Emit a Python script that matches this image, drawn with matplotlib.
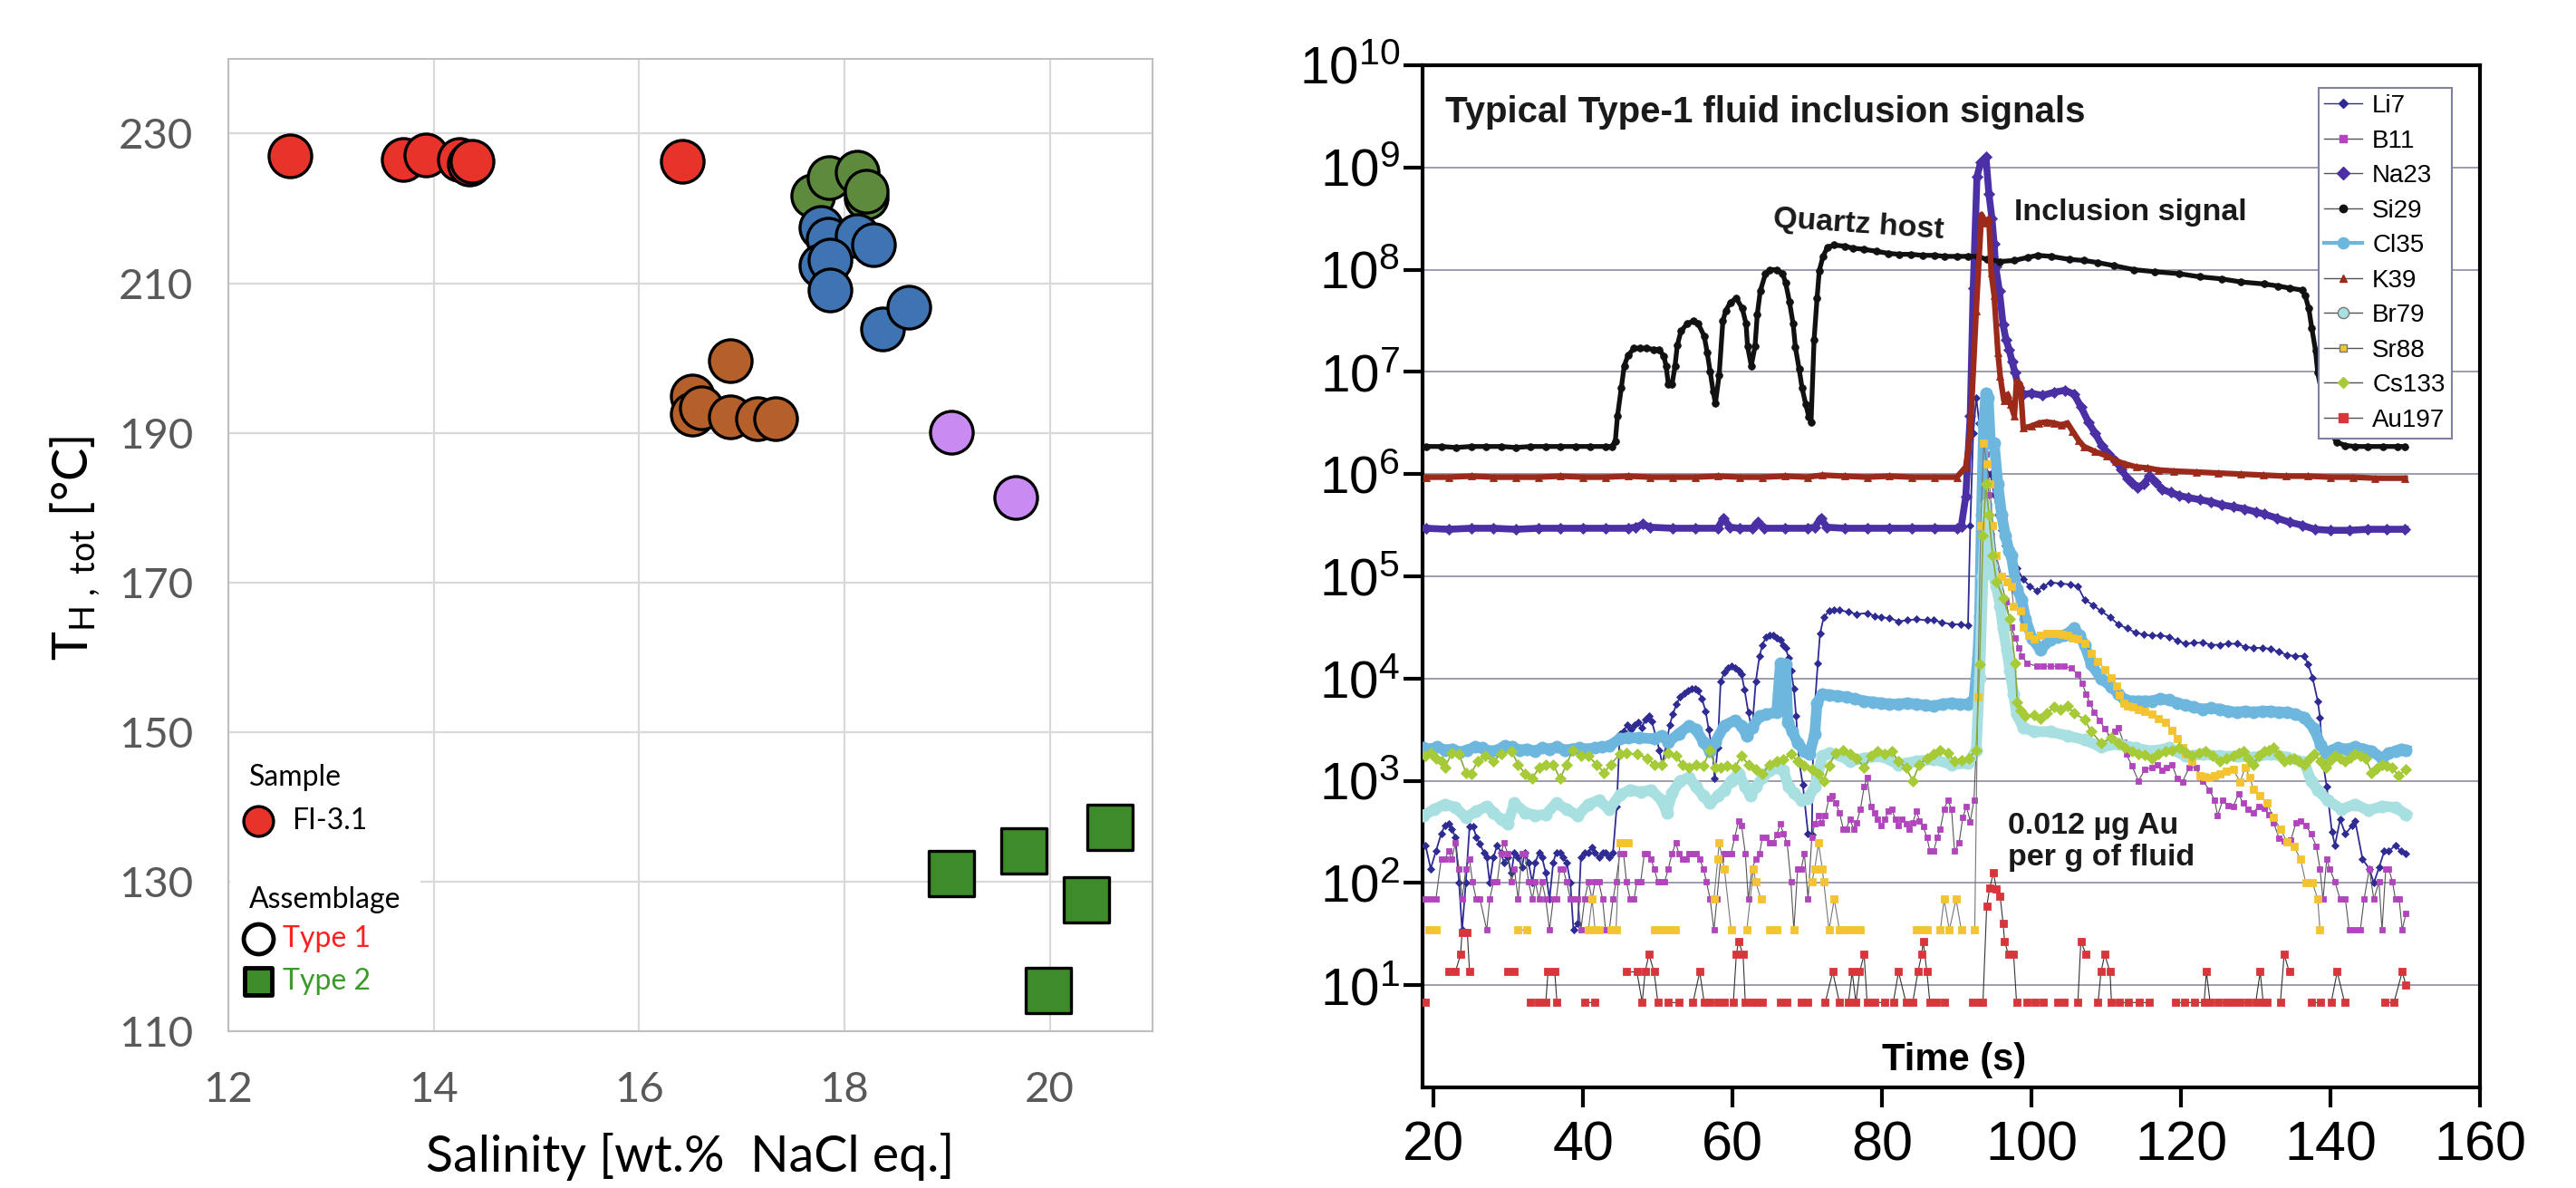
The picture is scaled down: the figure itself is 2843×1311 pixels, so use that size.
import numpy as np
import matplotlib
matplotlib.use('Agg')
import matplotlib.pyplot as plt
from matplotlib.lines import Line2D
from matplotlib.patches import Rectangle
from matplotlib.ticker import FuncFormatter, NullLocator

plt.rcParams['font.family'] = ['Liberation Sans', 'DejaVu Sans']
plt.rcParams['mathtext.fontset'] = 'custom'
plt.rcParams['mathtext.rm'] = 'Lato'
plt.rcParams['mathtext.sf'] = 'Liberation Sans'
plt.rcParams['mathtext.it'] = 'Lato:italic'
plt.rcParams['mathtext.bf'] = 'Lato:bold'

# ---------------- left panel: Th vs salinity ----------------
red_x = [12.60, 13.70, 13.92, 14.25, 14.35, 14.37, 16.42]
red_y = [227.0, 226.6, 227.2, 226.6, 225.9, 226.3, 226.3]
green_x = [17.69, 17.85, 18.12, 18.21, 18.21]
green_y = [221.7, 224.1, 224.9, 221.5, 222.3]
blue_x = [17.77, 17.84, 18.12, 18.28, 17.77, 17.86, 17.86, 18.37, 18.63]
blue_y = [217.5, 215.9, 216.4, 215.2, 212.4, 213.1, 209.1, 203.9, 206.8]
brown_x = [16.89, 16.52, 16.52, 16.61, 16.89, 17.15, 17.33]
brown_y = [199.7, 194.9, 192.5, 193.3, 192.1, 191.9, 191.9]
violet_x = [19.04, 19.67]
violet_y = [190.1, 181.4]
type2_x = [19.04, 19.75, 20.59, 20.36, 19.99]
type2_y = [131.1, 134.1, 137.2, 127.5, 115.4]

# ---------------- right panel: LA-ICP-MS signals (log10 cps) ----------------
li7 = [(18.9,2.37),(19.6,2.14),(20.3,2.31),(21.0,2.48),(21.5,2.56),(22.0,2.58),(22.4,2.53),(22.9,2.45),(23.4,2.0),(23.8,1.54),
       (24.3,2.0),(24.8,2.55),(25.3,2.55),(25.7,2.45),(26.2,2.38),(26.7,2.30),(27.1,2.25),(27.5,2.0),(28.0,2.25),(28.5,2.37),
       (29.0,2.30),(29.4,2.20),(29.9,2.25),(30.4,2.10),(30.8,2.30),(31.3,2.25),(31.8,2.15),(32.2,2.30),(32.7,2.20),(33.2,2.0),
       (33.6,2.20),(34.1,2.30),(34.5,2.25),(35.0,2.10),(35.5,1.84),(36.0,2.20),(36.4,2.30),(36.9,2.30),(37.3,2.25),(37.8,2.20),
       (38.3,2.0),(38.7,1.54),(39.3,1.6),(39.7,2.25),(40.2,2.30),(40.7,2.30),(41.2,2.35),(41.6,2.30),(42.1,2.25),(42.6,2.30),
       (43.0,2.30),(43.5,2.25),(44.0,2.30),(44.5,2.75),(44.9,3.46),(45.4,3.48),(45.9,3.55),(46.4,3.50),(46.9,3.55),(47.4,3.57),
       (47.9,3.52),(48.3,3.60),(48.8,3.63),(49.2,3.58),(49.7,3.44),(50.2,3.30),(50.6,3.16),(51.1,3.35),(51.6,3.55),(52.0,3.65),
       (52.5,3.75),(53.0,3.82),(53.5,3.86),(54.0,3.88),(54.5,3.90),(55.0,3.90),(55.4,3.88),(55.9,3.80),(56.4,3.68),(56.8,3.50),
       (57.3,3.30),(57.6,3.02),(58.0,3.32),(58.4,3.97),(58.9,4.06),(59.4,4.10),(59.8,4.12),(60.3,4.10),(60.8,4.08),(61.2,4.04),
       (61.6,3.89),(62.1,3.67),(62.6,3.49),(63.1,3.97),(63.6,4.22),(64.0,4.33),(64.5,4.41),(65.0,4.42),(65.4,4.42),(65.9,4.40),
       (66.4,4.38),(66.8,4.33),(67.1,4.30),(67.5,4.20),(67.8,4.08),(68.2,3.90),(68.5,3.63),(68.9,3.19),(69.4,2.96),(70.1,2.48),
       (70.6,2.47),(70.8,3.46),(71.0,3.73),(71.4,4.15),(71.7,4.44),(72.2,4.60),(72.9,4.66),(73.6,4.67),(74.3,4.67),(75.5,4.65),
       (76.6,4.63),(78.0,4.64),(79.0,4.61),(79.9,4.60),(81.0,4.59),(82.2,4.56),(83.4,4.57),(84.6,4.58),(86.0,4.57),(86.9,4.57),
       (88.0,4.55),(89.3,4.53),(90.5,4.53),(91.5,4.52),(91.8,5.5),(92.2,6.4),(92.6,6.75),(93.0,6.5),(93.4,6.1),(93.8,5.9),
       (94.2,6.0),(94.5,6.0),(95.0,5.8),(95.5,5.6),(96.0,5.45),(96.5,5.3),(97.0,5.2),(97.6,5.12),(98.0,5.08),(98.9,4.97),
       (99.8,4.90),(100.7,4.86),(101.6,4.90),(102.5,4.94),(103.9,4.93),(105.2,4.92),(106.2,4.90),(107.1,4.77),(108.2,4.72),(109.3,4.66),
       (110.5,4.60),(111.6,4.53),(112.8,4.49),(113.9,4.45),(115.0,4.43),(116.1,4.42),(117.2,4.42),(118.4,4.41),(119.5,4.37),(120.6,4.34),
       (121.7,4.35),(122.9,4.35),(124.0,4.33),(125.2,4.33),(126.3,4.34),(127.5,4.34),(128.6,4.31),(129.7,4.30),(130.9,4.30),(132.0,4.29),
       (133.1,4.26),(134.2,4.23),(135.3,4.22),(136.5,4.22),(137.0,4.14),(137.6,4.01),(138.3,3.78),(138.6,3.62),(139.0,3.18),(139.5,2.94),
       (140.2,2.50),(140.6,2.37),(141.3,2.62),(142.0,2.48),(142.9,2.56),(143.3,2.61),(144.3,2.23),(145.2,2.14),(145.8,2.0),(146.5,2.15),
       (147.2,2.31),(147.8,2.31),(148.7,2.37),(149.4,2.31),(150.1,2.29)]

b11 = [(18.9,1.84),(19.6,1.84),(20.3,1.84),(21.0,2.23),(21.5,2.23),(22.0,2.31),(22.4,2.23),(22.9,2.39),(23.4,2.14),(23.8,1.84),
       (24.3,2.14),(24.8,2.23),(25.2,2.01),(25.7,1.84),(26.2,1.84),(27.1,1.54),(27.5,1.84),(28.0,2.01),(28.5,2.01),(29.0,2.29),
       (29.4,2.39),(29.9,2.29),(30.4,2.01),(30.8,2.14),(31.3,1.84),(31.8,2.29),(32.2,2.29),(32.7,2.01),(33.2,1.84),(33.6,2.01),
       (34.1,1.84),(34.5,2.01),(35.0,1.84),(35.5,1.54),(36.0,1.84),(36.4,1.84),(36.9,2.14),(37.3,2.14),(37.8,2.01),(38.3,1.84),
       (38.7,1.84),(39.3,1.84),(39.7,1.54),(40.2,1.84),(40.7,2.01),(41.2,1.84),(41.6,2.01),(42.1,2.01),(42.6,1.84),(43.0,1.54),
       (43.5,1.54),(44.0,1.84),(44.4,2.01),(44.9,2.29),(45.4,2.29),(45.8,2.01),(46.3,1.84),(46.8,1.84),(47.2,2.01),(47.7,2.01),
       (48.2,2.29),(48.6,2.29),(49.1,2.23),(49.5,2.14),(50.0,2.01),(50.5,2.01),(50.9,2.01),(51.4,2.14),(51.9,2.29),(52.4,2.39),
       (52.8,2.29),(53.3,2.23),(53.8,2.23),(54.2,2.29),(54.7,2.29),(55.1,2.29),(55.6,2.23),(56.1,2.14),(56.5,2.01),(57.0,1.84),
       (57.5,1.54),(57.9,1.84),(58.4,2.23),(58.9,2.29),(59.3,2.29),(59.8,2.29),(60.3,2.45),(60.8,2.61),(61.2,2.56),(61.7,2.29),
       (62.1,1.84),(62.6,2.14),(63.1,2.23),(63.6,2.29),(64.0,2.45),(64.5,2.45),(65.0,2.39),(65.4,2.39),(65.9,2.47),(66.4,2.58),
       (66.8,2.48),(67.3,2.39),(67.8,2.01),(68.2,1.54),(68.7,2.14),(69.2,2.14),(69.6,2.29),(70.1,1.84),(70.6,2.45),(71.0,2.58),
       (71.5,2.66),(71.9,2.59),(72.4,2.66),(72.9,2.83),(73.3,2.85),(73.8,2.78),(74.3,2.69),(74.8,2.53),(75.2,2.53),(75.7,2.62),
       (76.2,2.53),(76.6,2.59),(77.1,2.72),(77.6,2.94),(78.0,3.03),(78.5,2.75),(79.0,2.69),(79.4,2.62),(79.9,2.56),(80.4,2.62),
       (80.8,2.70),(81.3,2.72),(81.8,2.62),(82.2,2.56),(82.7,2.62),(83.2,2.58),(83.6,2.53),(84.1,2.59),(84.6,2.70),(85.0,2.61),
       (85.5,2.55),(86.0,2.45),(86.4,2.31),(86.9,2.31),(87.4,2.45),(87.8,2.53),(88.3,2.72),(88.8,2.81),(89.3,2.72),(89.7,2.31),
       (90.3,2.39),(90.8,2.64),(91.3,2.75),(91.8,2.60),(92.3,2.81),(92.7,3.5),(93.1,4.8),(93.5,5.9),(93.9,6.2),(94.3,5.8),
       (94.7,5.4),(95.2,5.2),(95.8,5.0),(96.6,4.75),(97.3,4.5),(97.8,4.40),(98.3,4.30),(98.7,4.22),(99.4,4.15),(100.7,4.12),
       (101.6,4.12),(102.5,4.12),(103.5,4.12),(104.4,4.12),(105.3,4.10),(106.2,4.04),(106.8,3.95),(107.3,3.85),(107.8,3.76),(108.4,3.67),
       (109.1,3.59),(109.8,3.51),(110.5,3.43),(111.1,3.48),(111.6,3.52),(112.3,3.38),(112.7,3.26),(113.4,3.15),(114.3,3.0),(115.2,3.11),
       (116.1,3.13),(116.8,3.16),(117.5,3.10),(118.1,3.13),(118.8,3.16),(119.5,3.02),(120.2,2.99),(121.1,3.13),(122.0,3.13),(122.9,3.0),
       (123.8,2.91),(124.5,2.81),(124.9,2.66),(125.6,2.81),(126.3,2.76),(127.0,2.75),(127.7,2.87),(128.3,2.78),(129.0,2.72),(129.7,2.69),
       (130.4,2.75),(131.1,2.73),(131.7,2.67),(132.4,2.59),(133.1,2.44),(133.8,2.41),(134.7,2.42),(135.4,2.59),(136.0,2.61),(136.7,2.56),
       (137.4,2.48),(138.1,2.36),(138.6,2.14),(139.0,1.84),(139.5,2.23),(139.9,2.14),(140.6,2.01),(141.3,1.84),(142.0,1.84),(142.5,1.54),
       (143.3,1.54),(144.0,1.54),(144.5,1.84),(145.2,2.14),(145.8,1.84),(146.5,2.01),(146.9,1.54),(147.4,2.14),(147.8,2.14),(148.3,2.01),
       (148.7,1.84),(149.2,1.84),(149.6,1.54),(150.1,1.70)]

na23 = [(19,5.47),(22,5.46),(25,5.47),(28,5.47),(31,5.46),(34,5.47),(37,5.47),(40,5.47),(43,5.47),(46,5.47),(47,5.48),(48,5.51),
        (49,5.48),(52,5.47),(55,5.47),(58,5.47),(58.8,5.57),(59.6,5.48),(61,5.47),(62.6,5.47),(63.4,5.53),(64.2,5.47),(67,5.47),
        (70,5.47),(71,5.48),(71.8,5.57),(72.6,5.48),(75,5.47),(78,5.47),(81,5.47),(84,5.47),(87,5.47),(90.0,5.47),(90.6,5.49),
        (91.2,5.78),(91.8,6.57),(92.2,7.82),(92.7,8.91),(93.2,9.05),(93.9,9.10),(94.3,8.74),(94.7,8.50),(95.0,8.25),(95.2,8.03),
        (95.7,7.79),(96.2,7.46),(96.6,7.31),(97.0,7.22),(97.4,7.10),(97.8,6.99),(98.3,6.84),(98.9,6.78),(100,6.79),(101.5,6.77),
        (103,6.80),(104.5,6.82),(105.7,6.78),(106.6,6.66),(107.6,6.51),(108.5,6.40),(109.4,6.28),(110.3,6.20),(111.3,6.13),(112.0,6.05),
        (112.8,5.96),(113.5,5.91),(114.2,5.87),(115,5.90),(115.8,5.98),(116.6,5.92),(117.5,5.85),(118.6,5.82),(119.8,5.79),(121,5.77),
        (122.5,5.75),(124,5.73),(125.4,5.70),(127,5.68),(128.5,5.66),(130,5.63),(131.1,5.61),(132.8,5.57),(134.5,5.53),(136.2,5.50),
        (137.9,5.46),(140,5.45),(142.5,5.45),(145,5.46),(147.5,5.46),(150,5.46)]

si29 = [(19,6.27),(21,6.27),(23,6.26),(25,6.27),(27,6.27),(29,6.27),(31,6.26),(33,6.27),(35,6.27),(37,6.27),(39,6.27),(41,6.27),
        (43,6.27),(43.8,6.27),(44.3,6.32),(44.6,6.57),(45.1,6.84),(45.5,7.06),(46.0,7.16),(46.8,7.23),(47.6,7.23),(48.5,7.23),
        (49.4,7.22),(50.2,7.22),(50.8,7.15),(51.1,7.06),(51.4,6.88),(51.9,6.88),(52.3,7.06),(52.6,7.26),(53.1,7.40),(53.9,7.47),
        (54.8,7.50),(55.4,7.47),(56.2,7.35),(56.6,7.19),(57.0,7.00),(57.4,6.81),(57.7,6.69),(58.2,6.97),(58.7,7.50),(59.1,7.60),
        (59.7,7.68),(60.5,7.72),(61.3,7.62),(61.8,7.47),(62.0,7.25),(62.5,7.06),(63.0,7.25),(63.3,7.56),(63.7,7.79),(64.4,7.96),
        (65.0,8.00),(65.9,8.00),(66.7,7.96),(67.1,7.87),(67.6,7.69),(68.1,7.47),(68.4,7.24),(68.9,7.03),(69.3,6.84),(69.8,6.68),
        (70.2,6.56),(70.5,6.51),(70.9,7.31),(71.3,7.72),(71.6,7.99),(72.1,8.13),(72.7,8.22),(73.6,8.24),(75,8.23),(76.1,8.21),
        (77.5,8.20),(79.2,8.18),(80.8,8.16),(82.3,8.15),(83.9,8.15),(85.4,8.14),(87,8.14),(88.4,8.13),(90,8.13),(91.5,8.13),
        (92.8,8.13),(94.0,8.10),(95.8,8.08),(97.7,8.09),(99.5,8.12),(100.8,8.14),(102.6,8.13),(105.1,8.10),(107,8.09),(108.8,8.07),
        (111,8.04),(113.7,8.00),(116.5,7.98),(119.8,7.96),(122.5,7.93),(125.4,7.91),(128,7.88),(131.1,7.86),(133,7.84),(134.5,7.82),
        (136.2,7.80),(136.6,7.75),(137.1,7.62),(137.5,7.43),(138.0,7.21),(138.3,6.99),(138.8,6.81),(139.2,6.65),(139.5,6.51),(140.0,6.40),
        (140.9,6.31),(142,6.28),(143.3,6.27),(145,6.27),(147,6.27),(149,6.27),(150,6.27)]

cl35 = [(18.6,3.32),(19.5,3.31),(20.5,3.33),(21.5,3.30),(22.5,3.31),(23.5,3.28),(24.5,3.30),(25.5,3.33),(26.5,3.32),(27.5,3.29),
        (28.5,3.30),(29.5,3.34),(30.5,3.33),(31.5,3.30),(32.5,3.31),(33.5,3.29),(34.5,3.32),(35.5,3.31),(36.5,3.33),(37.5,3.30),
        (38.5,3.31),(39.5,3.32),(40.5,3.31),(41.5,3.32),(42.5,3.33),(43.5,3.34),(44.9,3.41),(46.0,3.42),(47.5,3.42),(49.5,3.41),
        (50.5,3.44),(51.4,3.38),(52.8,3.46),(54.2,3.54),(55.1,3.50),(56.1,3.38),(57.0,3.29),(57.7,3.38),(58.9,3.54),(60.3,3.59),
        (61.2,3.54),(61.9,3.44),(62.6,3.52),(63.6,3.63),(64.5,3.65),(65.9,3.67),(66.4,4.15),(67.1,4.14),(67.4,3.57),(68.0,3.48),
        (68.7,3.37),(69.6,3.29),(70.3,3.26),(71.0,3.46),(71.3,3.76),(72.0,3.85),(72.9,3.84),(74.0,3.83),(75.2,3.82),(76.4,3.80),
        (77.6,3.78),(78.8,3.77),(79.9,3.76),(81.0,3.75),(82.2,3.75),(83.4,3.76),(84.6,3.75),(85.8,3.74),(86.9,3.73),(88.1,3.75),
        (89.3,3.76),(90.4,3.75),(91.5,3.75),(92.3,3.80),(92.8,4.20),(93.05,4.61),(93.3,5.60),(93.6,6.50),(93.9,6.79),(94.2,6.75),
        (94.5,6.30),(95.0,6.30),(95.5,5.90),(96.0,5.60),(96.5,5.40),(97.0,5.25),(97.3,5.20),(98.0,4.88),(98.7,4.77),(99.2,4.58),
        (100.1,4.39),(101.2,4.28),(102.5,4.38),(103.5,4.41),(104.4,4.42),(105.7,4.49),(106.4,4.42),(107.1,4.33),(108.0,4.14),(109.3,4.00),
        (110.7,3.92),(111.6,3.85),(112.5,3.79),(113.4,3.78),(114.3,3.78),(115.2,3.78),(116.1,3.78),(117.2,3.80),(118.4,3.79),(119.5,3.76),
        (120.6,3.74),(121.7,3.72),(122.9,3.70),(124.0,3.71),(125.2,3.70),(126.3,3.68),(127.5,3.67),(128.6,3.68),(129.7,3.67),(130.9,3.68),
        (132.0,3.68),(133.1,3.67),(134.2,3.67),(135.3,3.65),(136.5,3.62),(137.8,3.51),(138.7,3.35),(139.4,3.27),(140.2,3.30),(141.0,3.32),
        (142.2,3.31),(143.3,3.33),(144.4,3.31),(145.5,3.29),(146.9,3.22),(147.8,3.27),(148.7,3.29),(149.5,3.31),(150.1,3.30)]

k39 = [(19,5.97),(22,5.97),(25,5.98),(28,5.97),(31,5.97),(34,5.97),(37,5.98),(40,5.97),(43,5.97),(46,5.98),(49,5.97),(52,5.97),
       (55,5.97),(58,5.98),(61,5.97),(64,5.97),(67,5.98),(70,5.97),(72,5.99),(75,5.98),(78,5.97),(81,5.98),(84,5.97),(87,5.97),
       (90,5.97),(91.2,6.07),(91.8,6.40),(92.6,7.60),(93.3,8.54),(93.9,8.46),(94.3,8.50),(94.6,7.97),(95.0,7.75),(95.5,7.19),
       (95.8,6.96),(96.3,6.72),(96.8,6.78),(97.2,6.68),(97.7,6.57),(98.0,6.91),(98.5,6.88),(98.9,6.45),(100,6.47),(101,6.50),
       (102,6.51),(103,6.50),(104,6.48),(104.8,6.50),(105.5,6.42),(106.3,6.33),(107,6.27),(108.5,6.22),(110,6.18),(111.3,6.13),
       (112.5,6.10),(114,6.07),(115.5,6.06),(117,6.04),(119,6.03),(122,6.02),(125,6.01),(128,6.00),(131,5.99),(134,5.98),
       (137,5.98),(140,5.97),(143,5.97),(146,5.96),(150,5.96)]

br79 = [(18.6,2.66),(20.1,2.72),(21.5,2.77),(22.9,2.74),(24.3,2.64),(25.7,2.70),(27.1,2.75),(28.0,2.69),(29.0,2.62),(29.9,2.58),
        (30.8,2.78),(32.2,2.69),(33.6,2.66),(35.0,2.67),(36.4,2.78),(37.8,2.72),(39.3,2.66),(40.7,2.77),(42.1,2.81),(43.5,2.72),
        (44.9,2.86),(46.3,2.91),(47.7,2.89),(49.1,2.91),(50.5,2.81),(51.2,2.69),(51.9,2.88),(53.0,3.00),(54.2,3.03),(55.1,2.94),
        (56.1,2.85),(57.0,2.78),(58.0,2.85),(58.9,2.91),(59.8,3.00),(60.8,3.07),(61.7,2.94),(62.4,2.85),(63.1,2.94),(64.0,3.03),
        (65.0,3.10),(65.9,3.13),(66.8,3.10),(67.5,2.94),(68.2,2.88),(69.2,2.81),(70.1,2.83),(71.0,2.94),(72.0,3.24),(72.9,3.27),
        (74.3,3.25),(75.7,3.19),(77.6,3.22),(79.9,3.24),(82.2,3.16),(84.6,3.19),(86.9,3.21),(89.3,3.16),(91.5,3.17),(92.6,3.30),
        (93.05,4.01),(93.5,5.0),(93.9,5.7),(94.3,5.5),(94.6,5.1),(95.3,4.9),(95.8,4.71),(96.2,4.49),(96.7,4.28),(97.1,4.08),
        (97.6,3.85),(98.0,3.65),(98.9,3.52),(100.3,3.48),(102.5,3.48),(104.8,3.44),(107.1,3.40),(109.3,3.33),(111.6,3.36),(113.9,3.32),
        (116.1,3.29),(118.4,3.32),(120.6,3.24),(122.9,3.26),(125.2,3.24),(127.5,3.24),(129.7,3.23),(132.0,3.26),(134.2,3.23),(136.5,3.18),
        (137.4,3.00),(138.3,2.91),(139.6,2.81),(141.5,2.72),(143.3,2.77),(145.1,2.71),(146.9,2.75),(148.7,2.74),(150.1,2.67)]

sr88 = [(19.4,1.54),(20.3,1.54),(20.8,np.nan),(31.3,1.54),(32.5,1.54),(33,np.nan),(40.7,1.54),(41.2,1.84),(41.6,1.54),(42.1,1.54),
        (42.6,np.nan),(43.7,1.54),(44.4,1.54),(44.9,2.39),(45.5,2.39),(46.0,2.39),(46.5,np.nan),(49.5,1.54),(50.5,1.54),(51.4,1.54),
        (52.3,1.54),(52.8,np.nan),(57.5,1.84),(58.0,2.23),(58.2,2.39),(58.9,2.14),(59.8,1.54),(60.3,np.nan),(61.9,1.54),(62.8,2.14),
        (63.1,2.01),(63.8,1.84),(64.3,np.nan),(65.0,1.54),(65.9,1.54),(66.4,np.nan),(68.2,1.54),(68.7,np.nan),(70.6,2.01),(71.0,2.14),
        (71.5,2.39),(72.0,2.14),(72.2,2.01),(72.9,1.54),(73.6,1.84),(74.3,1.54),(74.8,1.54),(75.5,1.54),(76.4,1.54),(77.1,1.54),
        (77.6,np.nan),(84.6,1.54),(85.3,1.54),(86.0,1.54),(86.5,np.nan),(87.8,1.54),(88.3,1.84),(89.0,1.54),(89.9,1.84),(90.6,1.54),
        (91.5,np.nan),(92.4,1.54),(92.8,3.82),(93.2,5.5),(93.6,6.3),(94.0,6.1),(94.4,5.9),(94.8,5.5),(95.3,5.2),(96.0,5.0),
        (96.7,4.95),(97.3,4.9),(97.6,4.71),(98.5,4.66),(98.9,4.50),(99.6,4.42),(100.3,4.39),(101.2,4.42),(102.1,4.44),(102.8,4.44),
        (103.5,4.44),(104.1,4.43),(104.8,4.42),(105.5,4.40),(106.2,4.39),(107.1,4.34),(108.0,4.25),(108.9,4.17),(109.8,4.09),(110.7,4.01),
        (111.4,3.93),(111.8,3.84),(112.3,3.76),(112.9,3.73),(113.6,3.72),(114.3,3.70),(115.2,3.68),(116.1,3.65),(117.0,3.61),(117.9,3.57),
        (118.8,3.49),(119.5,3.41),(120.2,3.32),(120.6,3.26),(121.5,3.19),(122.5,3.05),(123.1,3.04),(123.8,3.03),(124.5,3.05),(125.2,3.07),
        (126.1,3.09),(127.0,3.11),(127.9,2.99),(128.6,3.13),(129.2,3.03),(129.7,2.92),(130.6,2.85),(131.5,2.78),(132.4,2.64),(133.3,2.53),
        (134.2,2.40),(135.1,2.36),(136.0,2.23),(136.7,2.0),(137.6,2.0),(138.3,1.84),(138.6,1.54)]

cs133 = [(18.9,3.24),(19.6,3.27),(20.3,3.22),(21.0,3.19),(21.5,3.13),(22.4,3.27),(23.4,3.26),(24.3,3.08),(25.0,3.07),(25.9,3.19),
         (26.9,3.24),(28.0,3.19),(29.0,3.26),(30.4,3.29),(31.3,3.16),(32.2,3.07),(33.2,3.02),(34.1,3.13),(35.0,3.16),(36.0,3.16),
         (36.9,3.02),(37.8,3.16),(38.6,3.30),(39.7,3.24),(40.7,3.24),(41.8,3.16),(42.8,3.08),(43.7,3.16),(44.9,3.26),(45.8,3.27),
         (47.2,3.26),(48.6,3.22),(49.5,3.16),(50.5,3.16),(51.4,3.27),(52.4,3.24),(53.3,3.16),(54.2,3.13),(55.1,3.16),(56.1,3.15),
         (57.0,3.30),(57.7,3.13),(58.4,3.13),(59.3,3.15),(60.3,3.13),(61.2,3.24),(62.1,3.16),(63.1,3.11),(64.0,3.07),(65.0,3.16),
         (65.9,3.19),(66.8,3.21),(67.8,3.26),(68.7,3.19),(69.6,3.15),(70.6,3.11),(71.5,3.07),(72.2,3.00),(72.9,3.15),(73.8,3.27),
         (74.8,3.30),(75.7,3.26),(76.6,3.22),(77.6,3.13),(78.5,3.24),(79.4,3.29),(80.4,3.26),(81.3,3.29),(82.2,3.19),(83.2,3.13),
         (84.1,3.00),(85.0,3.16),(86.0,3.22),(86.9,3.26),(87.8,3.30),(88.8,3.27),(89.7,3.19),(90.6,3.20),(91.6,3.22),(92.6,3.30),
         (93.05,4.14),(93.5,5.4),(93.9,5.9),(94.3,5.6),(94.8,5.2),(95.3,4.95),(96.2,4.79),(97.1,4.58),(97.8,4.15),(98.1,3.77),
         (98.5,3.69),(99.2,3.63),(100.3,3.64),(101.2,3.61),(102.1,3.66),(103.0,3.72),(103.9,3.70),(104.8,3.73),(105.7,3.66),(107.1,3.60),
         (108.0,3.48),(109.3,3.37),(110.7,3.42),(111.6,3.37),(112.5,3.32),(113.4,3.29),(114.3,3.26),(115.2,3.25),(116.1,3.22),(117.0,3.26),
         (117.9,3.29),(118.8,3.30),(119.7,3.32),(120.6,3.28),(121.5,3.24),(122.4,3.27),(123.3,3.29),(124.2,3.24),(125.2,3.19),(126.1,3.22),
         (127.0,3.24),(127.7,3.27),(128.3,3.29),(129.0,3.22),(129.7,3.16),(130.4,3.24),(131.1,3.29),(131.8,3.30),(132.4,3.32),(133.1,3.25),
         (133.8,3.19),(134.5,3.21),(135.1,3.22),(135.8,3.19),(136.5,3.16),(137.2,3.22),(137.8,3.26),(138.7,3.19),(139.4,3.13),(140.0,3.20),
         (140.6,3.24),(141.3,3.22),(142.0,3.19),(142.7,3.23),(143.3,3.26),(144.0,3.24),(144.7,3.22),(145.5,3.08),(146.2,3.12),(146.9,3.16),
         (147.5,3.15),(148.2,3.13),(149.1,3.05),(150.1,3.11)]

au197 = [(18.9,0.83),(19.4,np.nan),(22.0,1.13),(22.9,1.13),(23.6,1.30),(23.8,1.52),(24.5,1.52),(24.8,1.13),(25.3,np.nan),(29.9,1.13),
         (30.8,1.13),(31.3,np.nan),(33.0,0.83),(34.0,0.83),(35.0,0.83),(35.3,1.13),(36.2,1.13),(36.5,0.83),(37.0,np.nan),(40.2,0.83),
         (41.6,0.83),(42.0,np.nan),(45.8,1.13),(47.2,1.13),(47.9,0.83),(48.3,1.13),(48.8,1.30),(49.5,1.13),(50.0,0.83),(50.5,np.nan),
         (51.4,0.83),(52.8,0.83),(53.3,np.nan),(54.7,0.83),(55.6,1.13),(56.2,0.83),(57.0,0.83),(58.0,0.83),(58.9,0.83),(59.4,np.nan),
         (60.1,0.83),(60.5,1.30),(60.8,1.43),(61.4,1.30),(61.7,0.83),(62.6,0.83),(63.3,0.83),(64.0,0.83),(64.5,np.nan),(66.4,0.83),
         (67.3,0.83),(67.8,np.nan),(69.2,0.83),(70.1,0.83),(70.6,np.nan),(72.4,0.83),(73.4,1.13),(74.3,0.83),(74.8,np.nan),(75.5,0.83),
         (76.0,1.13),(76.5,0.83),(77.0,1.13),(77.6,1.30),(78.0,0.83),(79.0,0.83),(80.4,0.83),(80.9,np.nan),(81.5,0.83),(82.2,1.13),
         (83.2,0.83),(84.1,0.83),(84.8,1.13),(85.3,1.30),(85.5,1.43),(86.0,1.13),(86.4,0.83),(87.2,0.83),(88.3,0.83),(89.0,np.nan),
         (92.1,0.83),(93.0,0.83),(93.5,0.83),(94.0,1.77),(94.4,1.95),(94.9,2.10),(95.3,1.94),(95.8,1.87),(96.2,1.60),(96.4,1.43),
         (96.9,1.30),(97.6,1.30),(98.0,0.83),(98.5,np.nan),(99.4,0.83),(100.5,0.83),(101.6,0.83),(102.0,np.nan),(103.5,0.83),(104.4,0.83),
         (104.9,np.nan),(106.2,0.83),(106.6,1.43),(107.3,1.30),(107.8,np.nan),(108.9,0.83),(109.3,1.13),(109.8,1.30),(110.5,1.13),(110.7,0.83),
         (111.8,0.83),(113.0,0.83),(114.4,0.83),(115.7,0.83),(116.2,np.nan),(119.3,0.83),(120.5,0.83),(121.8,0.83),(123.1,0.83),(123.4,1.13),
         (123.9,0.83),(125.0,0.83),(126.0,0.83),(127.0,0.83),(127.4,np.nan),(127.9,0.83),(129.0,0.83),(130.0,0.83),(130.6,1.13),(131.0,0.83),
         (131.5,0.83),(132.0,np.nan),(133.3,0.83),(133.8,1.30),(134.5,1.13),(135.0,np.nan),(137.4,0.83),(138.7,0.83),(139.2,np.nan),(140.1,0.83),
         (140.9,1.13),(141.9,0.83),(142.4,np.nan),(147.3,0.83),(148.5,0.83),(149.6,1.13),(150.1,1.0)]

# element name, data, marker colour, marker, marker size, line colour, line width
signal_styles = [
    ('Li7',   li7,   '#2E2B92', 'D', 4.5, '#2E2B92', 1.3),
    ('B11',   b11,   '#B244BE', 's', 5.0, '#555555', 0.8),
    ('Na23',  na23,  '#4A2FA5', 'D', 6.5, '#4A2FA5', 5.5),
    ('Si29',  si29,  '#111111', 'o', 5.5, '#111111', 3.8),
    ('Cl35',  cl35,  '#6DB7DF', 'o', 9.5, '#6DB7DF', 8.5),
    ('K39',   k39,   '#9B2A1B', '^', 5.5, '#9B2A1B', 4.5),
    ('Br79',  br79,  '#A8DFE0', 'o', 9.5, '#A8DFE0', 8.5),
    ('Sr88',  sr88,  '#F4C430', 's', 5.5, '#777777', 0.8),
    ('Cs133', cs133, '#A6CB37', 'D', 6.0, '#8aa83a', 1.2),
    ('Au197', au197, '#D9363C', 's', 6.0, '#333333', 0.8),
]

fig = plt.figure(figsize=(28.43, 13.11), dpi=100)

# ================= left panel =================
ax1 = fig.add_axes([0.0886, 0.132, 0.3588, 0.8185])
ax1.set_xlim(12, 21)
ax1.set_ylim(110, 240)
ax1.set_xticks([12, 14, 16, 18, 20])
ax1.set_yticks([110, 130, 150, 170, 190, 210, 230])
ax1.grid(True, color='#d9d9d9', lw=1.6)
ax1.set_axisbelow(True)
for s in ax1.spines.values():
    s.set_color('#bfbfbf')
    s.set_linewidth(1.5)
ax1.tick_params(length=0, labelsize=34, labelcolor='#595959')
ax1.tick_params(axis='y', pad=28)
ax1.tick_params(axis='x', pad=32)
for lbl in ax1.get_xticklabels() + ax1.get_yticklabels():
    lbl.set_fontfamily('Lato')

kw = dict(s=1150, edgecolors='black', linewidths=2.4, zorder=3)
ax1.scatter(red_x, red_y, c='#E8332A', **kw)
ax1.scatter(green_x, green_y, c='#5E8A3E', **kw)
ax1.scatter(blue_x, blue_y, c='#3F74B3', **kw)
ax1.scatter(brown_x, brown_y, c='#B5602A', **kw)
ax1.scatter(violet_x, violet_y, c='#C98AF2', **kw)
ax1.scatter(type2_x, type2_y, c='#3D8B2A', marker='s', s=1300,
            edgecolors='black', linewidths=2.4, zorder=3)

# legend block (white background over the grid)
ax1.add_patch(Rectangle((12.02, 110.4), 1.85, 37.0, facecolor='white',
                        edgecolor='none', zorder=1))
lf = dict(fontsize=23, family='Lato', va='center', zorder=4)
ax1.text(12.2, 143.9, 'Sample', ha='left', color='black', **lf)
ax1.scatter([12.29], [138.1], s=560, c='#E8332A', edgecolors='black', linewidths=2.4, zorder=4)
ax1.text(12.62, 138.1, 'FI-3.1', ha='left', color='black', **lf)
ax1.text(12.2, 127.5, 'Assemblage', ha='left', color='black', **lf)
ax1.scatter([12.29], [122.4], s=560, c='white', edgecolors='black', linewidths=3.5, zorder=4)
ax1.text(12.53, 122.4, 'Type 1', ha='left', color='#FF2020', **lf)
ax1.scatter([12.29], [116.7], s=480, c='#3D8B2A', marker='s', edgecolors='black',
            linewidths=3.5, zorder=4)
ax1.text(12.53, 116.7, 'Type 2', ha='left', color='#3C9A2A', **lf)

fig.text(0.0292, 0.539, r'$\mathrm{T_{H\ ,\ tot}}$ [°C]', rotation=90,
         ha='center', va='center', fontsize=39, family='Lato')
fig.text(0.268, 0.014, 'Salinity [wt.%  NaCl eq.]', ha='center', va='baseline',
         fontsize=40, family='Lato')

# ================= right panel =================
ax2 = fig.add_axes([0.5522, 0.0847, 0.4105, 0.8604])
ax2.set_yscale('log')
ax2.set_xlim(18.5, 160)
ax2.set_ylim(1, 1e10)

for z, (name, data, mc, mk, ms, lc, lw) in enumerate(signal_styles):
    t = np.array([p[0] for p in data])
    v = 10 ** np.array([p[1] for p in data])
    ax2.plot(t, v, color=lc, lw=lw, marker=mk, ms=ms, mfc=mc, mec=mc,
             mew=0.6, zorder=3 + z)

ax2.set_yticks([10.0 ** k for k in range(1, 11)])
ax2.yaxis.set_minor_locator(NullLocator())
ax2.yaxis.set_major_formatter(FuncFormatter(lambda v, p: r'$\mathsf{10^{%d}}$' % round(np.log10(v))))
ax2.set_xticks([20, 40, 60, 80, 100, 120, 140, 160])
ax2.yaxis.grid(True, color='#8c8ca0', lw=1.2, zorder=0)
ax2.set_axisbelow(True)
for s in ax2.spines.values():
    s.set_linewidth(3)
    s.set_color('black')
ax2.tick_params(axis='y', direction='out', length=15, width=3, labelsize=42, pad=3)
ax2.tick_params(axis='x', direction='out', length=16, width=3, labelsize=44, pad=10)
for lbl in ax2.get_xticklabels():
    lbl.set_fontfamily(['Liberation Sans Narrow', 'Liberation Sans'])

ax2.text(21.6, 10 ** 9.54, 'Typical Type-1 fluid inclusion signals', fontsize=29,
         fontweight='bold', color='#1a1a1a', ha='left', va='center', zorder=20)
ax2.text(76.9, 10 ** 8.44, 'Quartz host', fontsize=24.5, fontweight='bold',
         color='#1a1a1a', ha='center', va='center', rotation=-4, zorder=20)
ax2.text(97.7, 10 ** 8.56, 'Inclusion signal', fontsize=24.5, fontweight='bold',
         color='#1a1a1a', ha='left', va='center', zorder=20)
ax2.text(96.8, 10 ** 2.40, '0.012 \u00b5g Au\nper g of fluid', fontsize=24.5,
         fontweight='bold', color='#1a1a1a', ha='left', va='center',
         linespacing=1.15, zorder=20)
ax2.text(89.6, 10 ** 0.27, 'Time (s)', fontsize=30, fontweight='bold',
         ha='center', va='center', zorder=20)

handles = []
for name, data, mc, mk, ms, lc, lw in signal_styles:
    hl = '#6BB6DE' if name == 'Cl35' else ('#2E2B92' if name == 'Li7' else '#555555')
    hw = 3 if name == 'Cl35' else 1
    ec = '#777777' if name in ('Br79', 'Sr88') else mc
    handles.append(Line2D([], [], color=hl, lw=hw, marker=mk, ms=min(ms, 8) * 1.1,
                          mfc=mc, mec=ec, mew=1, label=name))
leg = ax2.legend(handles=handles, loc='upper right', bbox_to_anchor=(0.985, 0.99),
                 fontsize=20, frameon=True, fancybox=False, framealpha=1,
                 edgecolor='#8080a0', borderpad=0.25, labelspacing=0.45,
                 handlelength=1.5, handletextpad=0.4, numpoints=1)
leg.get_frame().set_linewidth(1.5)
leg.set_zorder(30)

fig.savefig('out.png', dpi=100)
